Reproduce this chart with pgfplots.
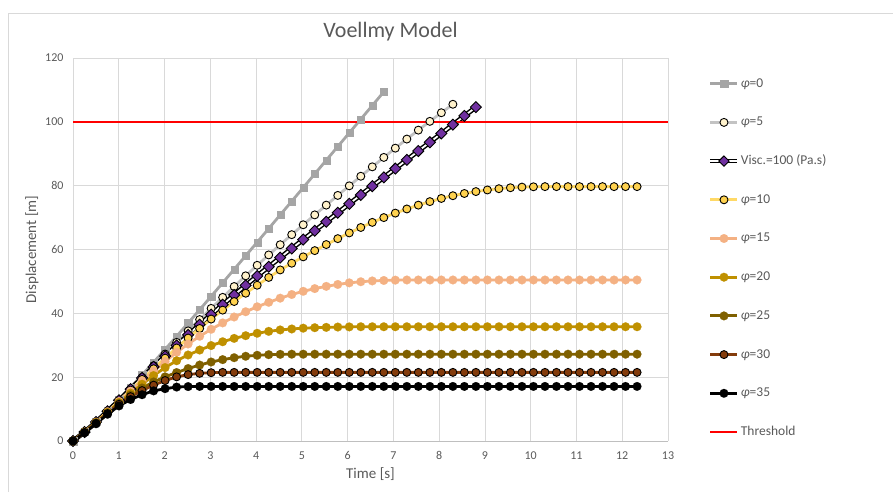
\documentclass[border=0pt]{standalone}
\usepackage{fontspec}
\setmainfont{Carlito}
\usepackage{pgfplots}
\usepackage{pgfplotstable}
\pgfplotsset{compat=1.18}
\definecolor{txt}{HTML}{595959}
\definecolor{gridc}{HTML}{D9D9D9}
\definecolor{axc}{HTML}{BFBFBF}
\definecolor{cA}{HTML}{A5A5A5}
\definecolor{cB}{HTML}{C3C3C3}
\definecolor{cBf}{HTML}{FFF2CC}
\definecolor{cV}{HTML}{7030A0}
\definecolor{cC}{HTML}{FFD966}
\definecolor{cCf}{HTML}{FFD24F}
\definecolor{cD}{HTML}{F4B183}
\definecolor{cE}{HTML}{BF9000}
\definecolor{cF}{HTML}{7F6000}
\definecolor{cG}{HTML}{843C0C}
\pgfplotstableread{
t p0 p5 visc p10 p15 p20 p25 p30 p35
0 0 0 0 0 0 0 0 0 0
0.252 2.84 2.8 2.8 2.8 2.8 2.75 2.7 2.65 2.6
0.503 6.01 5.9 5.95 5.9 5.9 5.8 5.7 5.55 5.4
0.755 9.42 9.2 9.3 9.15 9.15 9.0 8.8 8.6 8.4
1.006 13.04 12.7 12.75 12.5 12.4 12.1 11.8 11.5 11.0
1.258 16.80 16.3 16.25 15.9 15.6 15.0 14.4 13.9 13.0
1.509 20.68 19.95 19.75 19.3 18.8 17.8 16.6 15.8 14.5
1.761 24.66 23.6 23.2 22.65 21.9 20.5 18.5 17.5 15.7
2.012 28.70 27.25 26.6 25.95 24.9 23.0 20.1 18.95 16.4
2.264 32.80 30.9 29.95 29.15 27.8 25.15 21.45 20.1 16.9
2.515 36.95 34.5 33.25 32.25 30.4 26.95 22.7 20.8 17.05
2.767 41.12 38.05 36.45 35.25 32.8 28.5 23.8 21.2 17.1
3.018 45.32 41.55 39.6 38.2 35.0 29.9 24.75 21.4 17.1
3.270 49.55 45.0 42.7 41.0 37.0 31.1 25.5 21.5 17.1
3.521 53.79 48.4 45.75 43.7 38.85 32.15 26.1 21.5 17.1
3.773 58.04 51.75 48.75 46.3 40.5 33.0 26.55 21.5 17.1
4.024 62.29 55.05 51.7 48.8 42.05 33.75 26.85 21.5 17.1
4.276 66.56 58.3 54.6 51.25 43.45 34.35 27.05 21.5 17.1
4.527 70.83 61.5 57.45 53.6 44.75 34.8 27.15 21.5 17.1
4.779 75.11 64.65 60.3 55.7 45.9 35.1 27.2 21.5 17.1
5.030 79.39 67.75 63.1 57.7 46.9 35.35 27.2 21.5 17.1
5.282 83.67 70.85 65.9 59.65 47.75 35.5 27.2 21.5 17.1
5.533 87.96 73.9 68.7 61.55 48.45 35.6 27.2 21.5 17.1
5.785 92.25 76.95 71.5 63.4 49.05 35.7 27.2 21.5 17.1
6.036 96.54 79.95 74.3 65.2 49.55 35.75 27.2 21.5 17.1
6.288 100.82 82.95 77.1 66.9 49.9 35.8 27.2 21.5 17.1
6.539 105.11 85.9 79.85 68.5 50.15 35.8 27.2 21.5 17.1
6.791 109.40 88.85 82.6 70.0 50.3 35.8 27.2 21.5 17.1
7.042 nan 91.75 85.35 71.4 50.4 35.8 27.2 21.5 17.1
7.294 nan 94.6 88.1 72.7 50.45 35.8 27.2 21.5 17.1
7.545 nan 97.4 90.85 73.9 50.45 35.8 27.2 21.5 17.1
7.797 nan 100.15 93.6 75.0 50.45 35.8 27.2 21.5 17.1
8.048 nan 102.85 96.35 76.0 50.45 35.8 27.2 21.5 17.1
8.300 nan 105.5 99.1 76.85 50.45 35.8 27.2 21.5 17.1
8.551 nan nan 101.85 77.55 50.45 35.8 27.2 21.5 17.1
8.803 nan nan 104.6 78.15 50.45 35.8 27.2 21.5 17.1
9.054 nan nan nan 78.65 50.45 35.8 27.2 21.5 17.1
9.306 nan nan nan 79.05 50.45 35.8 27.2 21.5 17.1
9.557 nan nan nan 79.35 50.45 35.8 27.2 21.5 17.1
9.809 nan nan nan 79.55 50.45 35.8 27.2 21.5 17.1
10.060 nan nan nan 79.65 50.45 35.8 27.2 21.5 17.1
10.312 nan nan nan 79.7 50.45 35.8 27.2 21.5 17.1
10.563 nan nan nan 79.7 50.45 35.8 27.2 21.5 17.1
10.815 nan nan nan 79.7 50.45 35.8 27.2 21.5 17.1
11.066 nan nan nan 79.7 50.45 35.8 27.2 21.5 17.1
11.318 nan nan nan 79.7 50.45 35.8 27.2 21.5 17.1
11.569 nan nan nan 79.7 50.45 35.8 27.2 21.5 17.1
11.821 nan nan nan 79.7 50.45 35.8 27.2 21.5 17.1
12.072 nan nan nan 79.7 50.45 35.8 27.2 21.5 17.1
12.324 nan nan nan 79.7 50.45 35.8 27.2 21.5 17.1
}\data
\begin{document}
\begin{tikzpicture}
\useasboundingbox (0pt,0pt) rectangle (893pt,492pt);
\draw[gridc, line width=0.8pt] (8pt,0pt) -- (8pt,479pt) -- (893pt,479pt);
\begin{axis}[
  at={(73pt,51pt)}, anchor=south west,
  scale only axis, width=595pt, height=383pt,
  xmin=0, xmax=13, ymin=0, ymax=120,
  xtick={0,1,...,13}, ytick={0,20,...,120},
  grid=major, major grid style={draw=gridc, line width=0.75pt},
  axis x line*=bottom, axis y line*=left,
  x axis line style={-, draw=axc, line width=0.8pt},
  y axis line style={-, draw=gridc, line width=0.75pt},
  major tick length=0pt, tick style={draw=none},
  /pgf/number format/assume math mode=true,
  tick label style={font=\fontsize{12}{14}\selectfont, text=txt},
  xticklabel style={yshift=-7pt},
  yticklabel style={xshift=-6pt},
  xlabel={Time [s]}, ylabel={Displacement [m]},
  label style={font=\fontsize{15}{17}\selectfont, text=txt},
  xlabel style={at={(axis description cs:0.5,-0.0862)}, anchor=center},
  ylabel style={at={(axis description cs:-0.0689,0.5)}, anchor=center},
  title={Voellmy Model},
  title style={at={(axis description cs:0.5336,1.0522)}, anchor=center, font=\fontsize{22}{26}\selectfont, text=txt},
  legend image code/.code={\draw[mark repeat=2,mark phase=2,#1] plot coordinates {(0pt,0pt) (13.5pt,0pt) (27pt,0pt)};},
  legend style={at={(axis description cs:1.067,0.953)}, anchor=north west, draw=none, fill=none, inner sep=0pt,
    row sep=23.7pt, font=\fontsize{13.5}{16}\selectfont, text=txt,
    nodes={inner sep=1pt, text height=10pt, text depth=3pt}},
  legend cell align=left,
  clip=false,
]
\addplot[cA, line width=2.8pt, mark=square*, mark size=3.6pt, mark options={fill=cA, draw=cA, line width=0.1pt}] table[x=t,y=p0]{\data};
\addlegendentry{\textit{φ}=0}
\addplot[cB, line width=2.8pt, mark=*, mark size=4pt, mark options={fill=cBf, draw=black, line width=0.9pt}] table[x=t,y=p5]{\data};
\addlegendentry{\textit{φ}=5}
\addplot[black, line width=4.8pt, forget plot] table[x=t,y=visc]{\data};
\addplot[white, line width=1.8pt, forget plot] table[x=t,y=visc]{\data};
\addplot[only marks, mark=square*, mark size=3.9pt, mark options={fill=cV, draw=black, line width=0.9pt, rotate=45},
  legend image code/.code={
    \draw[black,line width=4.8pt] (0pt,0pt) -- (27pt,0pt);
    \draw[white,line width=1.8pt] (0pt,0pt) -- (27pt,0pt);
    \draw[black, fill=cV, line width=0.9pt] (13.5pt,-5.2pt) -- (18.7pt,0pt) -- (13.5pt,5.2pt) -- (8.3pt,0pt) -- cycle;}
  ] table[x=t,y=visc]{\data};
\addlegendentry{Visc.=100 (Pa.s)}
\addplot[cC, line width=2.8pt, mark=*, mark size=4pt, mark options={fill=cCf, draw=black, line width=0.9pt}] table[x=t,y=p10]{\data};
\addlegendentry{\textit{φ}=10}
\addplot[cD, line width=2.8pt, mark=*, mark size=4.4pt, mark options={fill=cD, draw=cD, line width=0.1pt}] table[x=t,y=p15]{\data};
\addlegendentry{\textit{φ}=15}
\addplot[cE, line width=2.8pt, mark=*, mark size=4.4pt, mark options={fill=cE, draw=cE, line width=0.1pt}] table[x=t,y=p20]{\data};
\addlegendentry{\textit{φ}=20}
\addplot[cF, line width=2.8pt, mark=*, mark size=4.4pt, mark options={fill=cF, draw=cF, line width=0.1pt}] table[x=t,y=p25]{\data};
\addlegendentry{\textit{φ}=25}
\addplot[cG, line width=2.8pt, mark=*, mark size=4pt, mark options={fill=cG, draw=black, line width=0.9pt}] table[x=t,y=p30]{\data};
\addlegendentry{\textit{φ}=30}
\addplot[black, line width=2.8pt, mark=*, mark size=4.4pt, mark options={fill=black, draw=black, line width=0.1pt}] table[x=t,y=p35]{\data};
\addlegendentry{\textit{φ}=35}
\addplot[red, line width=1.8pt] coordinates {(0,100) (13,100)};
\addlegendentry{Threshold}
\end{axis}
\end{tikzpicture}
\end{document}
